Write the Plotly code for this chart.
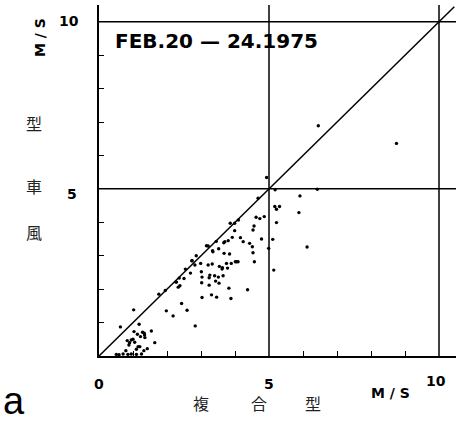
import plotly.graph_objects as go

# ---- data (m/s) ----
composite_x = [0.51, 0.59, 0.71, 0.79, 0.85, 0.95, 1.10, 1.25,
               0.63, 1.02, 0.83, 0.90, 0.95, 1.00, 0.88, 1.05, 1.03, 1.13, 1.18, 1.22,
               1.28, 1.34, 1.35, 1.33, 1.54, 1.64, 1.10, 1.20, 1.32, 1.42, 1.15,
               1.76, 1.95, 1.98, 2.18, 2.26, 2.33, 2.38, 2.36, 2.43, 2.50, 2.54, 2.59,
               2.69, 2.73, 2.82, 2.86, 2.83, 2.99, 3.03, 3.02, 3.03, 3.01, 3.16, 3.21,
               3.24, 3.24, 3.26, 3.31, 3.34, 3.33, 3.40, 3.43, 3.45, 3.46, 3.51, 3.52,
               3.53, 3.54, 3.63, 3.65, 3.68, 3.70, 3.75, 3.78, 3.80, 3.82, 3.84, 3.86,
               3.88, 3.89, 3.92, 3.99, 3.99, 4.01, 4.04, 4.09, 4.10, 4.16, 4.24, 4.37,
               4.43, 4.51, 4.53, 4.53, 4.56, 4.57, 4.62, 4.68, 4.73, 4.78, 4.86, 4.93,
               4.99, 5.11, 5.14, 5.17, 5.22, 5.31, 5.22, 5.18, 5.88, 5.91, 6.12, 6.42,
               6.45, 8.75, 3.67, 3.21, 3.35, 2.28, 2.74, 3.62]
windmill_y = [0.05, 0.04, 0.06, 0.16, 0.05, 0.06, 0.05, 0.06,
              0.87, 1.38, 0.46, 0.40, 0.48, 0.50, 0.33, 0.41, 0.73, 0.65, 0.95, 0.58,
              0.71, 0.63, 0.55, 0.68, 0.75, 0.40, 0.20, 0.28, 0.16, 0.22, 0.28,
              1.85, 1.96, 1.35, 1.20, 2.21, 2.06, 2.10, 2.33, 1.57, 2.32, 2.60, 1.37,
              2.48, 2.85, 2.72, 3.00, 0.90, 2.77, 1.75, 2.19, 2.36, 2.52, 3.30, 2.72,
              2.34, 2.12, 2.42, 1.83, 3.15, 2.75, 2.40, 2.24, 3.43, 1.76, 2.36, 3.21,
              2.18, 2.68, 2.64, 2.40, 3.07, 3.42, 2.77, 2.63, 3.45, 2.03, 3.05, 3.97,
              1.72, 2.77, 3.55, 3.97, 3.75, 2.82, 2.82, 2.82, 4.07, 3.54, 3.42, 1.98,
              3.37, 3.27, 3.09, 3.77, 3.89, 2.82, 4.15, 4.72, 4.11, 3.50, 4.17, 5.34,
              3.22, 3.49, 2.57, 4.47, 4.39, 4.47, 3.99, 4.97, 4.29, 4.79, 3.26, 4.99,
              6.89, 6.36, 3.39, 3.29, 3.12, 2.21, 2.85, 2.60]

x_tick_labels = ["0", "5", "10"]
x_tick_values = [0, 5, 10]
y_tick_labels = ["5", "10"]
y_tick_values = [5, 10]
minor_ticks = [1, 2, 3, 4, 6, 7, 8, 9]
grid_values = [5, 10]
axis_max = 10.5
date_label = "FEB.20 — 24.1975"
unit_label = "M / S"
x_title_chars = ["複", "合", "型"]
y_title_chars = ["風", "車", "型"]
panel_label = "a"

# ---- layout geometry ----
W_FIG, H_FIG = 456, 438
L, T = 99, 5
PW, PH = W_FIG - L, 356 - T


def px(x):
    return (x - L) / PW


def py(y):
    return (T + PH - y) / PH


fig = go.Figure()

fig.add_trace(go.Scatter(x=[0, 10.45], y=[0, 10.45], mode="lines",
                         line=dict(color="black", width=1.5),
                         hoverinfo="skip", showlegend=False))
fig.add_trace(go.Scatter(x=composite_x, y=windmill_y, mode="markers",
                         marker=dict(color="black", size=3.4),
                         showlegend=False))

shapes = []
for g in grid_values:
    shapes.append(dict(type="line", xref="x", yref="y", x0=g, x1=g, y0=0, y1=axis_max,
                       line=dict(color="black", width=1.5)))
    shapes.append(dict(type="line", xref="x", yref="y", x0=0, x1=axis_max, y0=g, y1=g,
                       line=dict(color="black", width=1.5)))

num_font = dict(family="DejaVu Sans", size=14, color="black", weight="bold")
ann = []
for v, t in zip(x_tick_values, x_tick_labels):
    ann.append(dict(x=v, y=0, xref="x", yref="y", text=t, showarrow=False,
                    font=num_font, xanchor="center", yanchor="middle",
                    yshift=-28 if v < 10 else -25,
                    xshift=0 if v < 10 else -3))
for v, t in zip(y_tick_values, y_tick_labels):
    ann.append(dict(x=0, y=v, xref="x", yref="y", text=t, showarrow=False,
                    font=num_font, xanchor="right", yanchor="middle",
                    xshift=-20 if v == 5 else -18,
                    yshift=-5 if v == 5 else 1))


def place(text, x, y, font, **kw):
    d = dict(x=px(x), y=py(y), xref="paper", yref="paper", text=text, showarrow=False,
             font=font, xanchor="center", yanchor="middle")
    d.update(kw)
    ann.append(d)


place(date_label, 216, 41, dict(family="DejaVu Sans", size=20, color="black", weight="bold"))
place(unit_label, 390, 393, num_font)
place(unit_label, 40, 38, num_font, textangle=-90)

cjk_font = dict(family="Noto Sans CJK JP", size=16, color="#222")
for ch, xx in zip(x_title_chars, [201, 259, 313]):
    place(ch, xx, 403, cjk_font)
for ch, yy in zip(y_title_chars, [232, 186, 123]):
    place(ch, 34, yy, cjk_font)
place(panel_label, 14, 401, dict(family="Liberation Sans", size=38, color="black"))

axis_common = dict(range=[0, axis_max], showgrid=False, zeroline=False, showline=True,
                   linecolor="black", linewidth=2, tickvals=minor_ticks, ticks="inside",
                   ticklen=5, tickwidth=1.2, tickcolor="black", showticklabels=False,
                   fixedrange=True)

fig.update_layout(
    width=W_FIG, height=H_FIG,
    margin=dict(l=L, r=0, t=T, b=H_FIG - 356),
    plot_bgcolor="white", paper_bgcolor="white",
    xaxis=axis_common, yaxis=axis_common,
    shapes=shapes, annotations=ann, showlegend=False,
)

fig.write_html("out.html", config={"displayModeBar": False},
               post_script="document.body.style.margin='0';")
